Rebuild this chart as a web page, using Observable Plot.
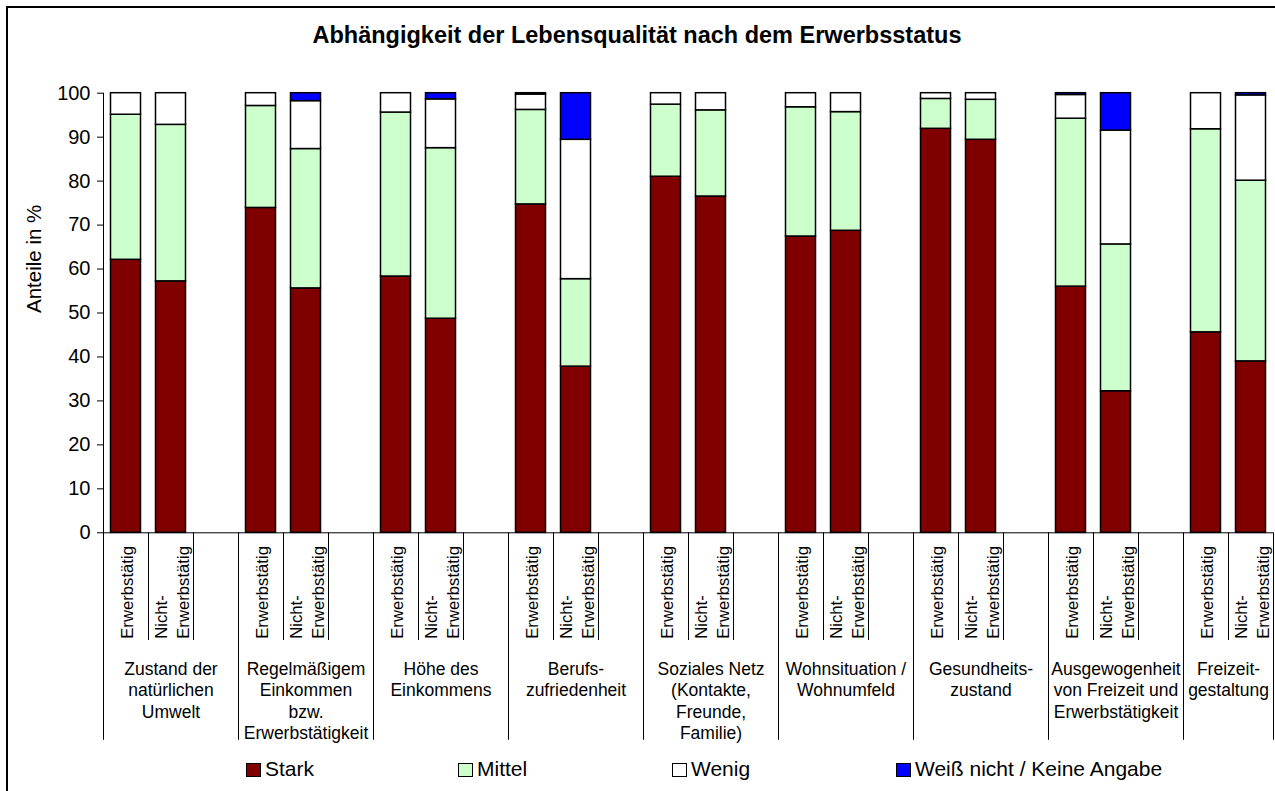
<!DOCTYPE html>
<html>
<head>
<meta charset="utf-8">
<script src="https://cdn.jsdelivr.net/npm/d3@7"></script>
<script src="https://cdn.jsdelivr.net/npm/@observablehq/plot@0.6"></script>
<style>
  html, body { margin: 0; padding: 0; background: #fff; overflow: hidden; }
  body { font-family: "Liberation Sans", Arial, sans-serif; color: #000; }
  #wrap { position: relative; width: 1275px; height: 791px; overflow: hidden; background: #fff; }
  #chart { position: absolute; left: 0; top: 0; }
  #border { position: absolute; left: 6px; top: 6px; width: 1400px; height: 900px; border: 2px solid #000; box-sizing: border-box; pointer-events: none; }
  #title { position: absolute; left: 0; top: 24px; width: 1274px; text-align: center; font-size: 23.5px; line-height: 23px; font-weight: bold; white-space: nowrap; }
  .sw { position: absolute; top: 763px; width: 15px; height: 14px; border: 1px solid #000; box-sizing: border-box; }
  .lt { position: absolute; top: 759px; font-size: 21px; line-height: 20.5px; white-space: nowrap; }
</style>
</head>
<body>
<div id="wrap">
  <div id="chart"></div>
  <div id="title"></div>
  <div id="legend"></div>
  <div id="border"></div>
</div>
<script>
// ---- data ----
const title = "Abhängigkeit der Lebensqualität nach dem Erwerbsstatus";
const yLabel = "Anteile in %";
const groups = [
  "Zustand der\nnatürlichen\nUmwelt",
  "Regelmäßigem\nEinkommen\nbzw.\nErwerbstätigkeit",
  "Höhe des\nEinkommens",
  "Berufs-\nzufriedenheit",
  "Soziales Netz\n(Kontakte,\nFreunde,\nFamilie)",
  "Wohnsituation /\nWohnumfeld",
  "Gesundheits-\nzustand",
  "Ausgewogenheit\nvon Freizeit und\nErwerbstätigkeit",
  "Freizeit-\ngestaltung"
];
const statuses = ["Erwerbstätig", "Nicht-\nErwerbstätig"];
const series = ["Stark", "Mittel", "Wenig", "Weiß nicht / Keine Angabe"];
const colors = ["#800000", "#CCFFCC", "#FFFFFF", "#0000FF"];
const yTicks = [0, 10, 20, 30, 40, 50, 60, 70, 80, 90, 100];
// order: group1 Erwerbstätig, group1 Nicht-Erwerbstätig, group2 Erwerbstätig, ...
const stark      = [62.1, 57.2, 73.9, 55.6, 58.3, 48.7, 74.7, 37.8, 81.0, 76.5, 67.4, 68.7, 91.9, 89.4, 56.0, 32.2, 45.6, 39.0];
const mittel     = [33.0, 35.6, 23.2, 31.7, 37.3, 38.8, 21.5, 19.9, 16.4, 19.6, 29.4, 27.0,  6.8,  9.1, 38.2, 33.4, 46.2, 41.1];
const wenig      = [ 4.9,  7.2,  2.9, 10.9,  4.4, 11.1,  3.5, 31.7,  2.6,  3.9,  3.2,  4.3,  1.3,  1.5,  5.4, 25.9,  8.2, 19.4];
const weissNicht = [ 0.0,  0.0,  0.0,  1.8,  0.0,  1.4,  0.3, 10.6,  0.0,  0.0,  0.0,  0.0,  0.0,  0.0,  0.4,  8.5,  0.0,  0.5];

// ---- build table ----
const seriesValues = [stark, mittel, wenig, weissNicht];
const slots = [];
groups.forEach((g, gi) => {
  slots.push(`${gi}E`, `${gi}N`);
  if (gi < groups.length - 1) slots.push(`${gi}B`);
});
const rows = [];
const statusRows = [];
for (let i = 0; i < stark.length; i++) {
  const gi = Math.floor(i / 2), si = i % 2;
  const slot = `${gi}${si ? "N" : "E"}`;
  statusRows.push({slot, label: statuses[si]});
  series.forEach((s, k) => {
    const v = seriesValues[k][i];
    if (v > 0) rows.push({slot, series: s, value: v});
  });
}
const groupRows = groups.map((g, gi) => ({slot: `${gi}N`, label: g}));

const W = 1275, H = 791;
const mL = 103, mR = 2, mT = 92.7, mB = H - 532.3;
const half = (W - mL - mR) / slots.length / 2;
const AXIS_LOW = -47.2;   // bottom end of group separators (below axis)
const AXIS_MID = -24.5;   // bottom end of slot separators
const lastSlot = slots[slots.length - 1];
const fullRight = slots.filter(s => s.endsWith("B")).concat([lastSlot]);
const shortRight = slots.filter(s => !s.endsWith("B") && s !== lastSlot);

const font = "Liberation Sans, Arial, sans-serif";

const chart = Plot.plot({
  width: W, height: H,
  marginLeft: mL, marginRight: mR, marginTop: mT, marginBottom: mB,
  x: {type: "band", domain: slots, padding: 0, axis: null, round: false},
  y: {domain: [0, 100]},
  color: {domain: series, range: colors},
  style: {fontFamily: font, color: "#000", background: "transparent", overflow: "visible"},
  marks: [
    Plot.barY(rows, {x: "slot", y: "value", fill: "series", order: series,
      stroke: "#000", strokeWidth: 1.5, insetLeft: 7.5, insetRight: 7.5}),
    Plot.frame({anchor: "left", stroke: "#000"}),
    Plot.ruleY([0], {stroke: "#000"}),
    Plot.axisY({ticks: yTicks, tickSize: 6, tickPadding: 7, fontSize: 20, label: null, stroke: "#000"}),
    Plot.ruleX([slots[0]], {x: d => d, y1: 0, y2: AXIS_LOW, dx: -half, stroke: "#000"}),
    Plot.ruleX(fullRight, {x: d => d, y1: 0, y2: AXIS_LOW, dx: half, stroke: "#000"}),
    Plot.ruleX(shortRight, {x: d => d, y1: 0, y2: AXIS_MID, dx: half, stroke: "#000"}),
    Plot.text(statusRows, {x: "slot", y: 0, text: "label", rotate: -90, textAnchor: "start",
      dy: 106, fontSize: 16.7, lineHeight: 1.28, fill: "#000"}),
    Plot.text(groupRows.slice(0, -1), {x: "slot", y: 0, text: "label", lineAnchor: "top",
      dy: 127, fontSize: 17.5, lineHeight: 1.22, fill: "#000"}),
    Plot.text(groupRows.slice(-1), {x: "slot", y: 0, text: "label", lineAnchor: "top",
      dy: 127, dx: -half, fontSize: 17.5, lineHeight: 1.22, fill: "#000"}),
    Plot.text([yLabel], {text: d => d, frameAnchor: "left", dx: -69.5, rotate: -90,
      fontSize: 20.5, fill: "#000"})
  ]
});
document.getElementById("chart").appendChild(chart);
document.getElementById("title").textContent = title;

// legend
const legendSw = [246, 458, 672, 896];
const legend = document.getElementById("legend");
series.forEach((s, k) => {
  const sw = document.createElement("div");
  sw.className = "sw";
  sw.style.left = legendSw[k] + "px";
  sw.style.background = colors[k];
  legend.appendChild(sw);
  const t = document.createElement("div");
  t.className = "lt";
  t.style.left = (legendSw[k] + 19) + "px";
  t.textContent = s;
  legend.appendChild(t);
});
</script>
</body>
</html>
